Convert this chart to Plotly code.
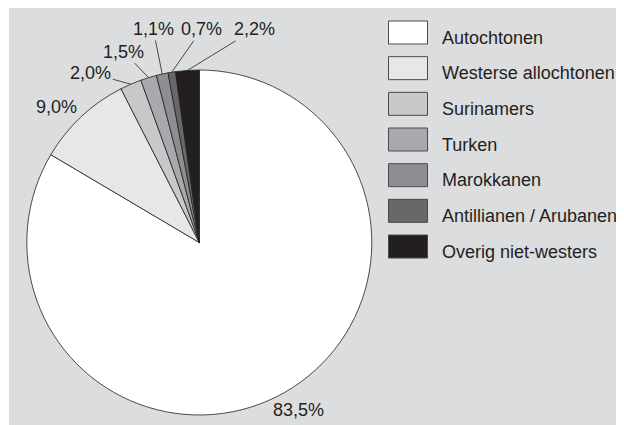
import math
import plotly.graph_objects as go

# data
groups = ['Autochtonen', 'Westerse allochtonen', 'Surinamers', 'Turken',
          'Marokkanen', 'Antillianen / Arubanen', 'Overig niet-westers']
shares = [83.5, 9.0, 2.0, 1.5, 1.1, 0.7, 2.2]
share_labels = ['83,5%', '9,0%', '2,0%', '1,5%', '1,1%', '0,7%', '2,2%']
colors = ['#ffffff', '#e6e7e8', '#c7c8ca', '#a8a9ac',
          '#8d8e91', '#67686a', '#231f20']

# label placement relative to the slice edge (pixels), and whether a leader line is drawn
label_offsets = [(14, 18), (-25, -10), (-40, -11), (-25, -26), (-9, -45), (30, -43), (67, -41)]
leader = [False, False, True, True, True, True, True]

# the page body has an 8px margin, so the figure starts at (8, 8) in the window
OFF = 8
W, H = 624 - OFF, 425 - OFF
ML, MT, MR, MB = 1, 0, 0, 0
PW, PH = W - ML - MR, H - MT - MB


def px2x(px):
    # window pixel -> paper x
    return (px - OFF - ML) / PW


def px2y(py):
    # window pixel -> paper y
    return 1 - (py - OFF - MT) / PH


cx, cy, r = 199.3, 242.5, 172.5
ink = '#231f20'

fig = go.Figure(go.Pie(
    labels=groups, values=shares, sort=False, direction='clockwise', rotation=0,
    marker=dict(colors=colors, line=dict(color=ink, width=0.8)),
    textinfo='none', hoverinfo='label+percent', showlegend=False,
    domain=dict(x=[px2x(cx - r), px2x(cx + r)], y=[px2y(cy + r), px2y(cy - r)]),
))

fnt = dict(family='Liberation Sans, Arial, sans-serif', size=18, color=ink)

# percentage labels with leader lines
total = sum(shares)
cum = 0
for i, v in enumerate(shares):
    mid = (cum + v / 2) / total * 2 * math.pi
    cum += v
    ex = cx + r * math.sin(mid)
    ey = cy - r * math.cos(mid)
    dx, dy = label_offsets[i]
    fig.add_annotation(
        x=px2x(ex), y=px2y(ey), xref='paper', yref='paper',
        text=share_labels[i], font=fnt, showarrow=True, ax=dx, ay=dy,
        arrowhead=0, arrowwidth=0.8, standoff=0, startstandoff=0,
        arrowcolor=ink if leader[i] else 'rgba(0,0,0,0)',
    )

# legend drawn by hand: long boxes like the original
box_x0, box_x1 = 388.5, 427.5
top0, step, bh = 21, 35.67, 23
for i, g in enumerate(groups):
    y0 = top0 + i * step
    fig.add_shape(type='rect', xref='paper', yref='paper',
                  x0=px2x(box_x0), x1=px2x(box_x1), y0=px2y(y0 + bh), y1=px2y(y0),
                  fillcolor=colors[i], line=dict(color='#4a4a4c', width=1))
    fig.add_annotation(x=px2x(440), y=px2y(y0 + bh / 2 + 5), xref='paper', yref='paper',
                       text=g, showarrow=False, xanchor='left', yanchor='middle', font=fnt)

# grey panel
fig.add_shape(type='rect', xref='paper', yref='paper', x0=0, x1=1, y0=0, y1=1,
              fillcolor='#dcdddf', line=dict(width=0), layer='below')

fig.update_layout(
    width=W, height=H,
    margin=dict(l=ML, r=MR, t=MT, b=MB),
    paper_bgcolor='white', plot_bgcolor='#dcdddf',
    font=fnt,
)

fig.write_html("out.html")
